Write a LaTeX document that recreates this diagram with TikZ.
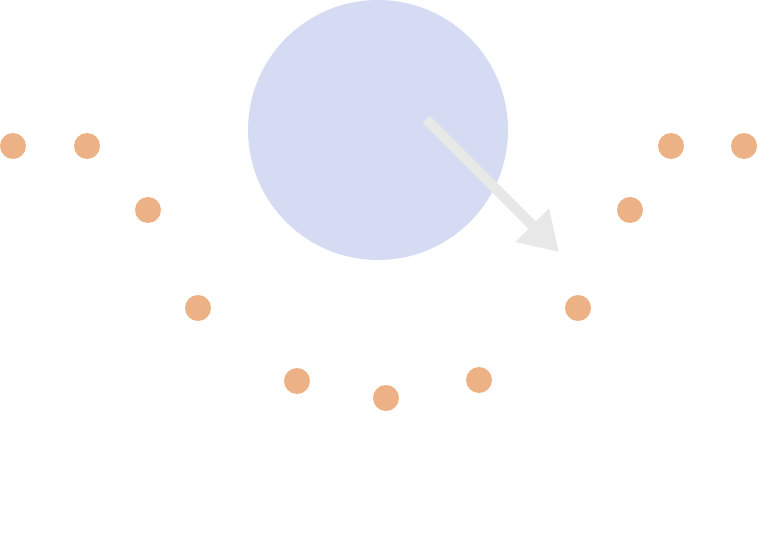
\documentclass[tikz,border=0pt]{standalone}
\usepackage{tikz}
\usepackage{xcolor}
\usetikzlibrary{arrows.meta}
\definecolor{blobblue}{RGB}{212,219,243}
\definecolor{dotorange}{RGB}{236,178,134}
\definecolor{arrowgrey}{RGB}{232,232,232}
\tikzset{
  dot/.style={circle, fill=dotorange, inner sep=0pt, minimum size=0.52cm},
  blob/.style={circle, fill=blobblue, inner sep=0pt, minimum size=5.2cm},
  push/.style={-{Triangle[length=0.76cm, width=0.9cm]}, line width=0.21cm, arrowgrey}
}

\begin{document}
\begin{tikzpicture}[x=0.02cm, y=-0.02cm]
    \useasboundingbox (0,0) rectangle (758,551);
    \node[blob] (disc) at (378,130) {};
    % dots along the curve
    \node[dot] (d1) at (13,146) {};
    \node[dot] (d2) at (87,146) {};
    \node[dot] (d3) at (148,210) {};
    \node[dot] (d4) at (198,308) {};
    \node[dot] (d5) at (297,381) {};
    \node[dot] (d6) at (386,398) {};
    \node[dot] (d7) at (479,380) {};
    \node[dot] (d8) at (578,308) {};
    \node[dot] (d9) at (630,210) {};
    \node[dot] (d10) at (671,146) {};
    \node[dot] (d11) at (744,146) {};
    \coordinate (from) at (426,119);
    \coordinate (to) at (559,252);
    \draw[push] (from) -- (to);
  \end{tikzpicture}
\end{document}
